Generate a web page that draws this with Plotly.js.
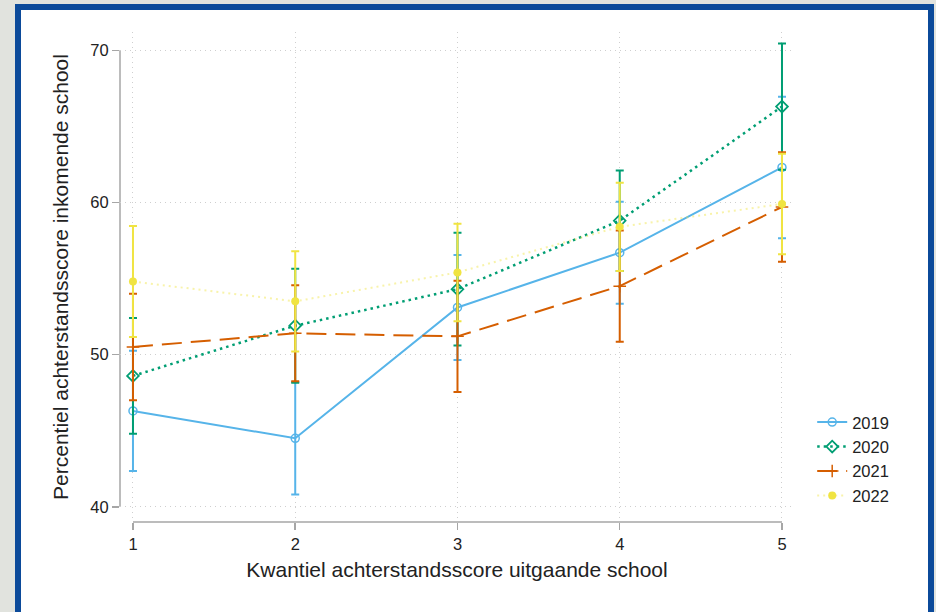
<!DOCTYPE html>
<html>
<head>
<meta charset="utf-8">
<script src="https://cdn.plot.ly/plotly-3.0.1.min.js"></script>
<style>
  html, body { margin: 0; padding: 0; background: #e1e3de; width: 936px; height: 612px; overflow: hidden; }
  #frame { position: absolute; left: 15px; top: 4px; width: 907px; height: 640px; background: #ffffff; border: 6px solid #0b4a9a; border-bottom: none; }
  #chart { position: absolute; left: 0; top: 0; width: 936px; height: 612px; }
</style>
</head>
<body>
<div id="frame"></div>
<div id="chart"></div>
<script>
// Data
const quantiles = [1, 2, 3, 4, 5];
const tickValsY = [40, 50, 60, 70];

const years = ['2019', '2020', '2021', '2022'];

const mean2019 = [46.3, 44.5, 53.1, 56.7, 62.3];
const ci2019   = [3.95, 3.7, 3.45, 3.35, 4.65];

const mean2020 = [48.6, 51.9, 54.3, 58.8, 66.3];
const ci2020   = [3.8, 3.75, 3.7, 3.3, 4.15];

const mean2021 = [50.5, 51.4, 51.2, 54.5, 59.7];
const ci2021   = [3.5, 3.15, 3.65, 3.65, 3.6];

const mean2022 = [54.8, 53.5, 55.4, 58.4, 59.9];
const ci2022   = [3.65, 3.3, 3.2, 2.9, 3.3];

const colors = ['#56b4e9', '#009e73', '#d55e00', '#f0e442'];

function errBar(arr, color) {
  return { type: 'data', array: arr, visible: true, color: color, thickness: 2, width: 4 };
}

const traces = [
  {
    x: quantiles, y: mean2019, name: years[0], type: 'scatter', mode: 'lines+markers',
    line: { color: colors[0], width: 2, dash: 'solid' },
    marker: { symbol: 'circle-open', size: 8, color: colors[0], line: { width: 1.5, color: colors[0] } },
    error_y: errBar(ci2019, colors[0])
  },
  {
    x: quantiles, y: mean2020, name: years[1], type: 'scatter', mode: 'lines+markers',
    line: { color: colors[1], width: 2.5, dash: '2.5px,4px' },
    marker: { symbol: 'diamond-open', size: 9, color: colors[1], line: { width: 1.8, color: colors[1] } },
    error_y: errBar(ci2020, colors[1])
  },
  {
    x: quantiles, y: mean2021, name: years[2], type: 'scatter', mode: 'lines+markers',
    line: { color: colors[2], width: 2, dash: '20px,9px' },
    marker: { symbol: 'cross-thin-open', size: 9, color: colors[2], line: { width: 1.5, color: colors[2] } },
    error_y: errBar(ci2021, colors[2])
  },
  {
    x: quantiles, y: mean2022, name: years[3], type: 'scatter', mode: 'lines+markers',
    line: { color: 'rgba(240,228,66,0.45)', width: 2, dash: '2px,4px' },
    marker: { symbol: 'circle', size: 8, color: colors[3] },
    error_y: errBar(ci2022, colors[3])
  }
];

const axisGray = '#a6a6a6';
const gridGray = '#cfcfcf';

const layout = {
  width: 936, height: 612,
  paper_bgcolor: 'rgba(0,0,0,0)',
  plot_bgcolor: 'rgba(0,0,0,0)',
  margin: { l: 120, r: 142, t: 32, b: 90 },
  font: { family: 'Liberation Sans, Arial, sans-serif', size: 16, color: '#222222' },
  showlegend: true,
  legend: {
    x: 1.027, xanchor: 'left', y: 0.239, yanchor: 'top',
    font: { size: 16.5, color: '#222222' },
    bgcolor: 'rgba(0,0,0,0)', itemwidth: 30, tracegroupgap: 0
  },
  xaxis: {
    range: [0.92, 5.074], tickvals: quantiles, ticktext: quantiles.map(String),
    showline: false, zeroline: false,
    showgrid: true, gridcolor: gridGray, gridwidth: 1, griddash: '1px,4px',
    ticks: 'outside', ticklen: 7, tickwidth: 1.5, tickcolor: axisGray,
    tickfont: { size: 16.5, color: '#222222' },
    title: { text: 'Kwantiel achterstandsscore uitgaande school', font: { size: 21, color: '#222222' }, standoff: 10 }
  },
  yaxis: {
    range: [39.0, 71.2], tickvals: tickValsY, ticktext: tickValsY.map(String),
    showline: false, zeroline: false,
    showgrid: true, gridcolor: gridGray, gridwidth: 1, griddash: '1px,4px',
    ticks: 'outside', ticklen: 7, tickwidth: 1.5, tickcolor: axisGray,
    tickfont: { size: 16.5, color: '#222222' },
    title: { text: 'Percentiel achterstandsscore inkomende school', font: { size: 21, color: '#222222' }, standoff: 15 }
  },
  shapes: [
    { type: 'line', xref: 'paper', yref: 'y', x0: 0, x1: 0, y0: 40, y1: 70, line: { color: axisGray, width: 1.5 }, layer: 'below' },
    { type: 'line', xref: 'x', yref: 'paper', x0: 1, x1: 5, y0: 0, y1: 0, line: { color: axisGray, width: 1.5 }, layer: 'below' }
  ]
};

Plotly.newPlot('chart', traces, layout, { displayModeBar: false, staticPlot: true });
</script>
</body>
</html>
